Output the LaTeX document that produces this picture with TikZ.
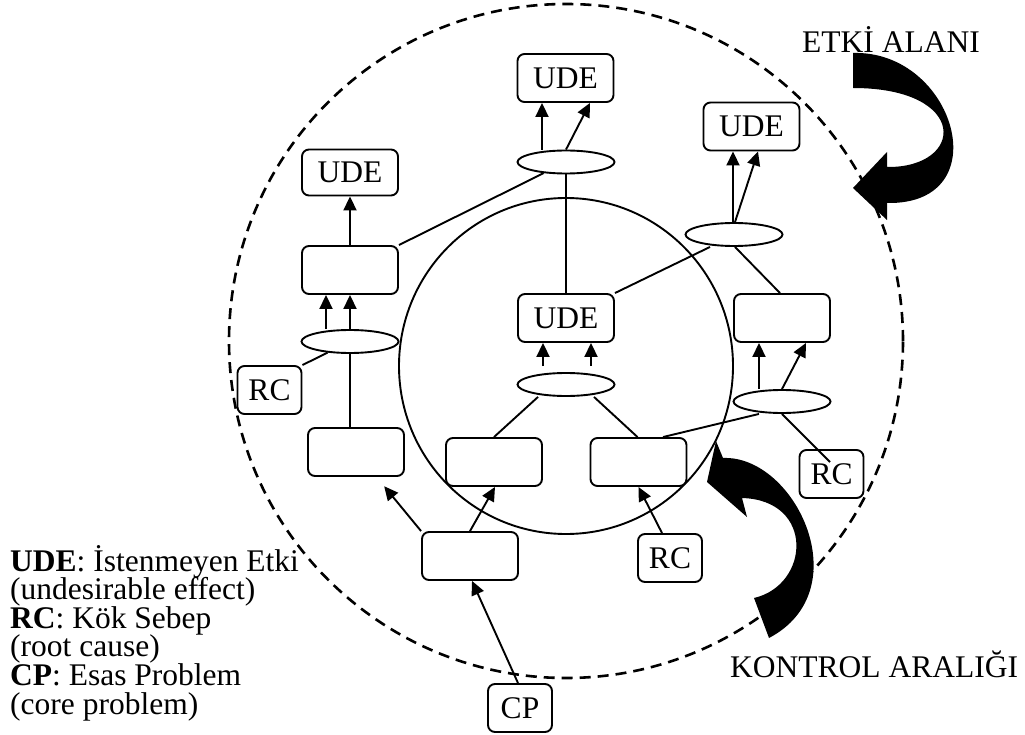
\documentclass[tikz,border=0pt]{standalone}
\usepackage{fontspec}
\setmainfont{Liberation Serif}
\usetikzlibrary{arrows.meta,shapes.geometric}
\begin{document}
\begin{tikzpicture}[x=1pt,y=-1pt,
  every node/.style={font=\fontsize{31.5}{28.6}\selectfont, inner sep=0pt},
  box/.style={draw, rounded corners=7pt, line width=1.9pt, minimum width=96pt, minimum height=48pt},
  rcbox/.style={box, minimum width=64pt},
  junc/.style={draw, ellipse, line width=1.9pt, minimum width=97pt, minimum height=23pt},
  link/.style={line width=1.9pt},
  arr/.style={link, -{Triangle[length=14pt,width=13pt]}},
  legend/.style={anchor=base west},
  label/.style={anchor=base west}
]
\useasboundingbox (0,0) rectangle (1025,735);

% sphere of influence and span of control
\draw[line width=2.6pt, dash pattern=on 11pt off 7pt] (566,341) circle [radius=337pt];
\draw[line width=1.9pt] (566,366) ellipse [x radius=167pt, y radius=168pt];

% boxes and junctions
\node[box] (ude1) at (565.5,78) {UDE};
\node[junc] (el1) at (566,162) {};
\node[box, minimum height=46pt] (ude2) at (350,172.5) {UDE};
\node[box] (b1) at (350,270) {};
\node[junc] (el2) at (350,341.5) {};
\node[rcbox] (rc1) at (269.5,390) {RC};
\node[box] (b2) at (356,452) {};
\node[box] (ude3) at (751.5,126.5) {UDE};
\node[junc] (el3) at (734,234.5) {};
\node[box] (ude4) at (566,318) {UDE};
\node[junc] (el4) at (566,384.5) {};
\node[box] (b3) at (494,462) {};
\node[box] (b4) at (638.5,462) {};
\node[box] (b5) at (782,318) {};
\node[junc] (el5) at (782,401.5) {};
\node[rcbox] (rc2) at (831.5,474) {RC};
\node[box] (b6) at (470,556) {};
\node[rcbox] (rc3) at (670,558) {RC};
\node[rcbox] (cp) at (520,708) {CP};

% connectors
\draw[arr] ([xshift=-24pt]el1.north) -- ([xshift=-23.5pt]ude1.south);
\draw[arr] (el1.north) -- ([xshift=24.5pt]ude1.south);
\draw[link] (el1) -- (b1.north east);
\draw[link] (el1) -- (ude4);
\draw[arr] (b1) -- (ude2);
\draw[arr] ([xshift=-24pt]el2.north) -- ([xshift=-24pt]b1.south);
\draw[arr] (el2.north) -- (b1.south);
\draw[link] (rc1.north east) -- (el2);
\draw[link] (el2.south) -- ([xshift=-6pt]b2.north);
\draw[arr, shorten >=12pt] (b6.north west) -- (b2);
\draw[arr] (b6.north) -- ([xshift=1pt]b3.south);
\draw[arr] ([xshift=-2pt]cp.north) -- ([xshift=2pt]b6.south);
\draw[arr] ([xshift=-23pt,yshift=6pt]el4.north) -- ([xshift=-23pt]ude4.south);
\draw[arr] ([xshift=25pt,yshift=6pt]el4.north) -- ([xshift=25pt]ude4.south);
\draw[link] ([xshift=-28pt]el4.south) -- (b3.north);
\draw[link] ([xshift=28pt]el4.south) -- ([xshift=-1pt]b4.north);
\draw[link] ([xshift=24.5pt]b4.north) -- ([xshift=-23pt]el5.south);
\draw[arr] ([xshift=-8pt]rc3.north) -- (b4.south);
\draw[arr] ([xshift=-23pt]el5.north) -- ([xshift=-23pt]b5.south);
\draw[arr] (el5.north) -- ([xshift=24pt]b5.south);
\draw[link] (el5.south) -- ([xshift=-1.5pt,yshift=12pt]rc2.center);
\draw[link] ([xshift=-2pt]b5.north) -- ([xshift=1pt]el3.south);
\draw[arr] ([xshift=-1pt]el3.north) -- ([xshift=-18.5pt]ude3.south);
\draw[arr] ([xshift=1pt]el3.north) -- ([xshift=6.5pt]ude3.south);
\draw[link] ([xshift=-24pt]el3.south) -- (ude4.north east);

% thick curved arrows
\fill (853,53) .. controls (955,50) and (1000,205) .. (887,203)
  -- (887,220) -- (853,188) -- (887,152) -- (887,167)
  .. controls (965,168) and (970,88) .. (853,88) -- cycle;
\fill (716,441) -- (723,458) .. controls (795,455) and (860,590) .. (769,638)
  -- (754,598) .. controls (810,585) and (815,500) .. (742,498)
  -- (747,517) -- (707,482) -- cycle;

% labels
\node[label] (etki) at (802,53) {ETKİ ALANI};
\node[label] (kontrol) at (730,677) {KONTROL ARALIĞI};

% legend
\node[legend] (leg1) at (10,571) {\textbf{UDE}: İstenmeyen Etki};
\node[legend] (leg2) at (10,599.6) {(undesirable effect)};
\node[legend] (leg3) at (10,628.2) {\textbf{RC}: Kök Sebep};
\node[legend] (leg4) at (10,656.8) {(root cause)};
\node[legend] (leg5) at (10,685.4) {\textbf{CP}: Esas Problem};
\node[legend] (leg6) at (10,714) {(core problem)};
\end{tikzpicture}
\end{document}
